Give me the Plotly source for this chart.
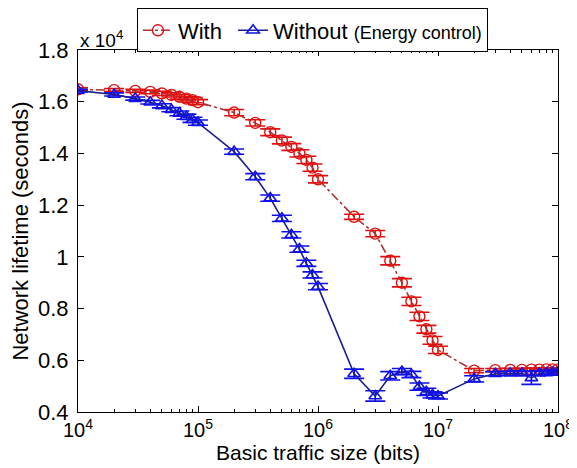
import plotly.graph_objects as go

# Basic traffic size (bits)
traffic_size = [1e4, 2e4, 3e4, 4e4, 5e4, 6e4, 7e4, 8e4, 9e4,
                1e5, 2e5, 3e5, 4e5, 5e5, 6e5, 7e5, 8e5, 9e5,
                1e6, 2e6, 3e6, 4e6, 5e6, 6e6, 7e6, 8e6, 9e6,
                1e7, 2e7, 3e7, 4e7, 5e7, 6e7, 7e7, 8e7, 9e7, 1e8]

# Network lifetime, in units of 10^4 seconds
with_ctrl = [1.648, 1.645, 1.642, 1.638, 1.632, 1.626, 1.619, 1.612, 1.606,
             1.598, 1.558, 1.518, 1.482, 1.450, 1.425, 1.400, 1.375, 1.345,
             1.300, 1.155, 1.090, 0.985, 0.900, 0.828, 0.770, 0.720, 0.677,
             0.640, 0.560, 0.562, 0.563, 0.563, 0.564, 0.564, 0.565, 0.565, 0.565]
with_err = [0.006, 0.006, 0.006, 0.007, 0.008, 0.008, 0.009, 0.009, 0.010,
            0.010, 0.012, 0.012, 0.013, 0.013, 0.013, 0.014, 0.014, 0.014,
            0.014, 0.010, 0.012, 0.016, 0.016, 0.016, 0.016, 0.015, 0.015,
            0.014, 0.008, 0.006, 0.006, 0.006, 0.006, 0.006, 0.006, 0.006, 0.006]

without_ctrl = [1.643, 1.628, 1.612, 1.598, 1.584, 1.569, 1.555, 1.542, 1.530,
                1.519, 1.407, 1.310, 1.227, 1.149, 1.085, 1.030, 0.975, 0.930,
                0.885, 0.548, 0.462, 0.540, 0.556, 0.545, 0.498, 0.478, 0.466,
                0.462, 0.528, 0.548, 0.550, 0.550, 0.532, 0.550, 0.551, 0.553, 0.554]
without_err = [0.005, 0.006, 0.006, 0.007, 0.008, 0.008, 0.009, 0.010, 0.010,
               0.010, 0.010, 0.012, 0.012, 0.012, 0.012, 0.012, 0.012, 0.012,
               0.012, 0.018, 0.020, 0.016, 0.012, 0.012, 0.014, 0.014, 0.012,
               0.012, 0.012, 0.008, 0.008, 0.008, 0.025, 0.008, 0.008, 0.008, 0.008]

x_major = [1e4, 1e5, 1e6, 1e7, 1e8]
x_major_text = ["10<sup>4</sup>", "10<sup>5</sup>", "10<sup>6</sup>", "10<sup>7</sup>", "10<sup>8</sup>"]
x_minor = [m * d for d in [1e4, 1e5, 1e6, 1e7] for m in [2, 3, 4, 5, 6, 7, 8, 9]]
y_ticks = [0.4, 0.6, 0.8, 1.0, 1.2, 1.4, 1.6, 1.8]
y_tick_text = ["0.4", "0.6", "0.8", "1", "1.2", "1.4", "1.6", "1.8"]

FONT = "Liberation Sans, Arial, sans-serif"
RED = "#e01010"
RED_LINE = "#b03030"
BLUE = "#1010e8"
BLUE_LINE = "#1a2090"

fig = go.Figure()

fig.add_trace(go.Scatter(
    x=traffic_size, y=with_ctrl, name="With ",
    mode="lines+markers",
    line=dict(color=RED_LINE, width=1.6, dash="dashdot"),
    marker=dict(symbol="circle-open", size=11, color=RED, line=dict(width=1.4, color=RED)),
    error_y=dict(type="data", array=with_err, visible=True, color=RED, thickness=1.6, width=10),
))

fig.add_trace(go.Scatter(
    x=traffic_size, y=without_ctrl,
    name="Without <span style='font-size:18px'>(Energy control)</span>",
    mode="lines+markers",
    line=dict(color=BLUE_LINE, width=1.6),
    marker=dict(symbol="triangle-up-open", size=11, color=BLUE, line=dict(width=1.6, color=BLUE)),
    error_y=dict(type="data", array=without_err, visible=True, color=BLUE, thickness=1.6, width=10),
))

# The page body adds an 8px offset, so the figure is sized to fit the 577x468 window.
fig.update_layout(
    width=569, height=460,
    margin=dict(l=70, r=19, t=42, b=56, autoexpand=False),
    paper_bgcolor="white", plot_bgcolor="white",
    font=dict(family=FONT, size=20, color="black"),
    showlegend=True,
    legend=dict(
        orientation="h", xref="container", yref="container",
        x=0.535, xanchor="center", y=0.999, yanchor="top",
        bgcolor="white", bordercolor="black", borderwidth=1,
        font=dict(family=FONT, size=22, color="black"),
        itemwidth=30, tracegroupgap=0,
    ),
    xaxis=dict(
        type="log", range=[4, 8], automargin=False,
        tickmode="array", tickvals=x_major, ticktext=x_major_text,
        ticks="inside", ticklen=6, tickcolor="black",
        showline=True, linecolor="black", linewidth=1, mirror="allticks",
        showgrid=False, zeroline=False,
        tickfont=dict(size=20),
        minor=dict(tickmode="array", tickvals=x_minor, ticks="inside", ticklen=3,
                   tickcolor="black", showgrid=False),
        title=dict(text="Basic traffic size (bits)", font=dict(size=21), standoff=3),
    ),
    yaxis=dict(
        range=[0.4, 1.8], automargin=False,
        tickmode="array", tickvals=y_ticks, ticktext=y_tick_text,
        ticks="inside", ticklen=6, tickcolor="black",
        showline=True, linecolor="black", linewidth=1, mirror="allticks",
        showgrid=False, zeroline=False,
        tickfont=dict(size=22),
        ticklabelstandoff=4,
        title=dict(text="Network lifetime (seconds)", font=dict(size=22), standoff=10),
    ),
    annotations=[dict(
        text="x 10<sup>4</sup>", xref="paper", yref="paper", x=0.0, y=1.0,
        xanchor="left", yanchor="bottom", showarrow=False,
        font=dict(family=FONT, size=19, color="black"), yshift=-3,
    )],
)

fig.write_html("out.html")
